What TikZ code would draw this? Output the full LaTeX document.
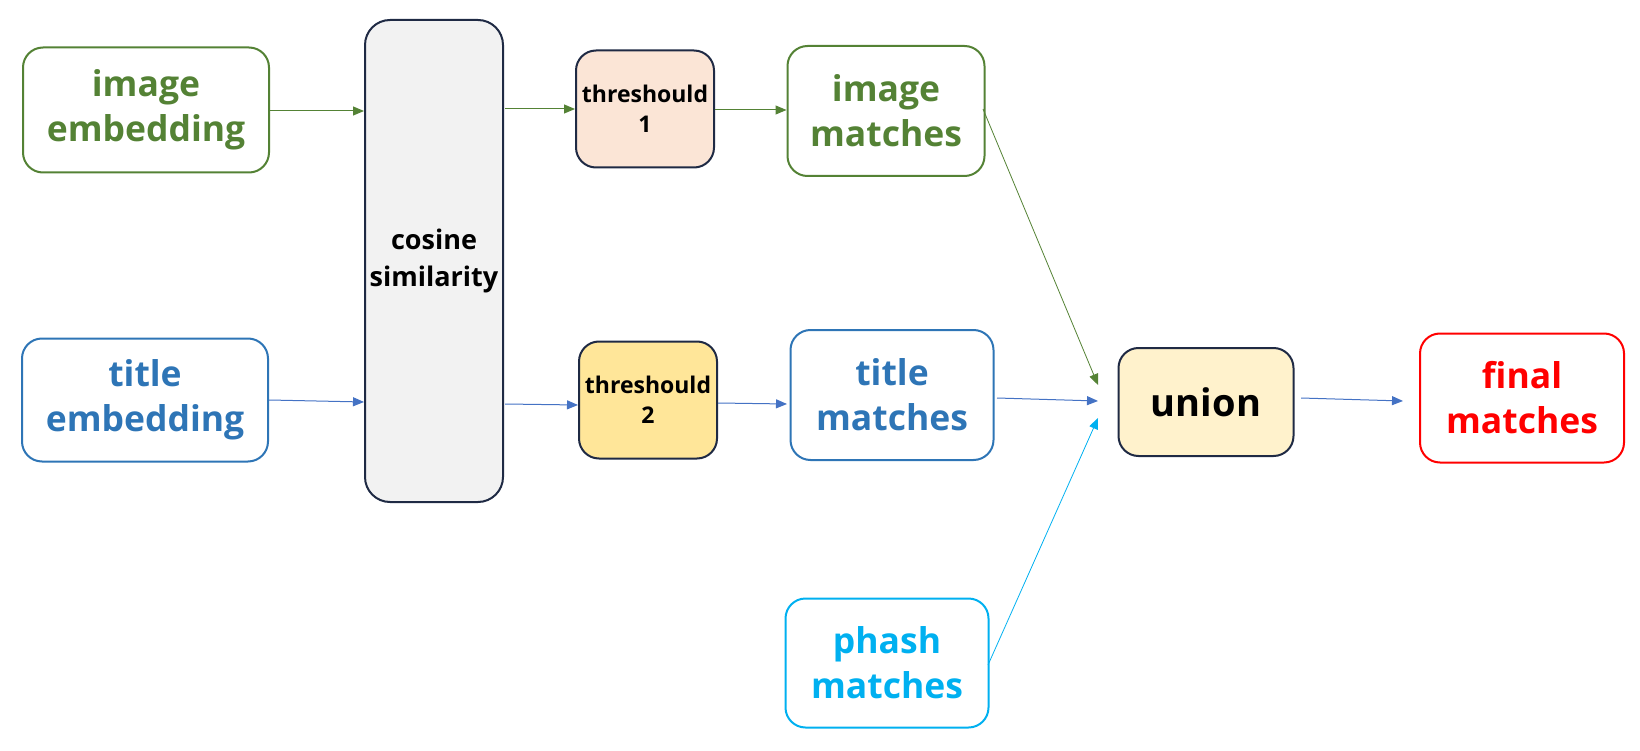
\documentclass[tikz,border=0pt]{standalone}
\usepackage{fontspec}
\setmainfont{Open Sans}
\usetikzlibrary{arrows.meta}
\definecolor{cgreen}{HTML}{548235}
\definecolor{cblue}{HTML}{2E75B6}
\definecolor{carrow}{HTML}{4472C4}
\definecolor{clight}{HTML}{00B0F0}
\definecolor{cred}{HTML}{FF0000}
\definecolor{cnavy}{HTML}{1F2A44}
\definecolor{cgrey}{HTML}{F2F2F2}
\definecolor{cpeach}{HTML}{FBE5D6}
\definecolor{cyellow}{HTML}{FFE699}
\definecolor{ccream}{HTML}{FFF2CC}
\tikzset{
  box/.style={draw, line width=2pt, rounded corners=20pt, align=center, inner sep=0pt},
  bigtxt/.style={font=\fontsize{35.5}{45}\selectfont\bfseries},
  smalltxt/.style={font=\fontsize{23}{30}\selectfont\bfseries, text=black},
  arr/.style={line width=1pt, -{Triangle[length=11pt,width=9pt]}},
}
\begin{document}
\begin{tikzpicture}[x=1pt,y=-1pt]
\useasboundingbox (0,0) rectangle (1640,751);
% nodes
\node[box, bigtxt, draw=cgreen, text=cgreen, minimum width=246pt, minimum height=125pt] (ie) at (146,110) {image\\embedding};
\node[box, bigtxt, draw=cblue, text=cblue, minimum width=246pt, minimum height=123pt] (te) at (145,400) {title\\embedding};
\node[box, draw=cnavy, fill=cgrey, rounded corners=25pt, font=\fontsize{27}{37}\selectfont\bfseries, text=black, minimum width=138pt, minimum height=482pt] (cs) at (434,261) {cosine\\similarity};
\node[box, smalltxt, draw=cnavy, fill=cpeach, minimum width=138pt, minimum height=117pt] (t1) at (645,109) {threshould\\1};
\node[box, smalltxt, draw=cnavy, fill=cyellow, minimum width=138pt, minimum height=117pt] (t2) at (648,400) {threshould\\2};
\node[box, bigtxt, draw=cgreen, text=cgreen, minimum width=197pt, minimum height=130pt] (im) at (886,111) {image\\matches};
\node[box, bigtxt, draw=cblue, text=cblue, minimum width=203pt, minimum height=130pt] (tm) at (892,395) {title\\matches};
\node[box, bigtxt, draw=clight, text=clight, minimum width=203pt, minimum height=129pt] (pm) at (887,663) {phash\\matches};
\node[box, draw=cnavy, fill=ccream, font=\fontsize{38}{44}\selectfont\bfseries, text=black, minimum width=175pt, minimum height=108pt] (un) at (1206,402) {union};
\node[box, bigtxt, draw=cred, text=cred, minimum width=204pt, minimum height=129pt] (fm) at (1522,398) {final\\matches};
% free ends near union
\coordinate (u1) at (1098,385);
\coordinate (u2) at (1098,401);
\coordinate (u3) at (1098,418);
\coordinate (u4) at (1403,401);
% connectors
\draw[arr, cgreen] (ie.east |- 0,111) -- (cs.west |- 0,111);
\draw[arr, carrow] (te.east |- 0,400) -- (cs.west |- 0,402);
\draw[arr, cgreen] (505,109) -- (t1.west |- 0,109);
\draw[arr, carrow] (505,404) -- (t2.west |- 0,405);
\draw[arr, cgreen] (t1.east |- 0,110) -- (im.west |- 0,110);
\draw[arr, carrow] (t2.east |- 0,403) -- (787,404);
\draw[arr, cgreen, line width=0.8pt] (983,109) -- (u1);
\draw[arr, carrow] (997,398) -- (u2);
\draw[arr, clight, line width=0.8pt] (988,665) -- (u3);
\draw[arr, carrow] (1301,398) -- (u4);
\end{tikzpicture}
\end{document}
